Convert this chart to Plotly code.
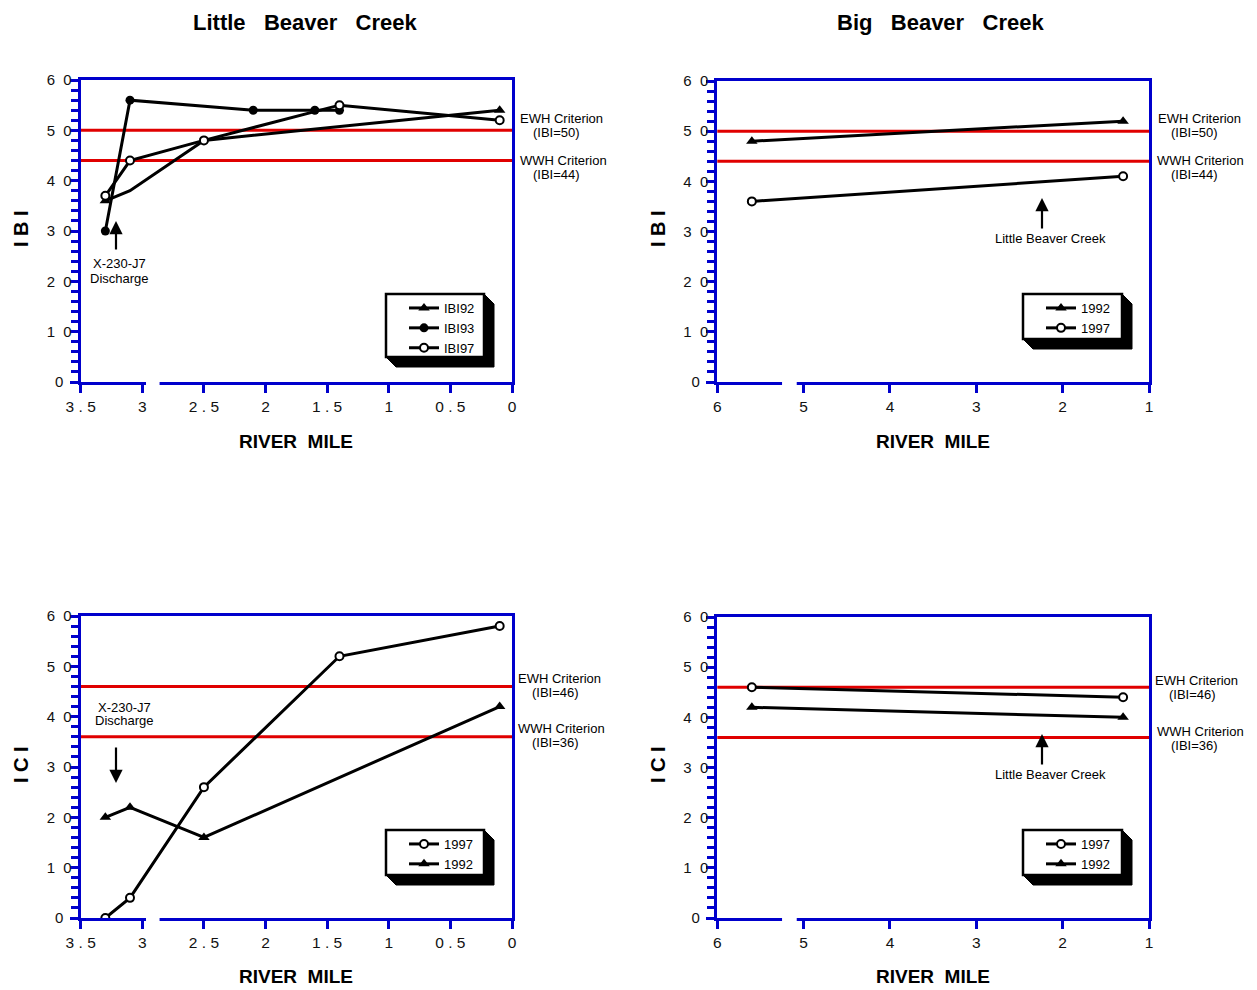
import plotly.graph_objects as go

# ---------------- data ----------------
# Little Beaver Creek - IBI
lbc_ibi92_mile = [3.3, 3.1, 2.5, 0.1]
lbc_ibi92_val = [36, 38, 48, 54]
lbc_ibi92_marked = [True, False, False, True]
lbc_ibi93_mile = [3.3, 3.1, 2.1, 1.6, 1.4]
lbc_ibi93_val = [30, 56, 54, 54, 54]
lbc_ibi97_mile = [3.3, 3.1, 2.5, 1.4, 0.1]
lbc_ibi97_val = [37, 44, 48, 55, 52]

# Little Beaver Creek - ICI
lbc_ici97_mile = [3.3, 3.1, 2.5, 1.4, 0.1]
lbc_ici97_val = [0, 4, 26, 52, 58]
lbc_ici92_mile = [3.3, 3.1, 2.5, 0.1]
lbc_ici92_val = [20, 22, 16, 42]

# Big Beaver Creek - IBI
bbc_ibi92_mile = [5.6, 1.3]
bbc_ibi92_val = [48, 52]
bbc_ibi97_mile = [5.6, 1.3]
bbc_ibi97_val = [36, 41]

# Big Beaver Creek - ICI
bbc_ici97_mile = [5.6, 1.3]
bbc_ici97_val = [46, 44]
bbc_ici92_mile = [5.6, 1.3]
bbc_ici92_val = [42, 40]

# criteria
ibi_ewh, ibi_wwh = 50, 44
ici_ewh, ici_wwh = 46, 36

# ticks
lbc_xticks = [3.5, 3, 2.5, 2, 1.5, 1, 0.5, 0]
lbc_xticktext = ["3 . 5", "3", "2 . 5", "2", "1 . 5", "1", "0 . 5", "0"]
bbc_xticks = [6, 5, 4, 3, 2, 1]
bbc_xticktext = ["6", "5", "4", "3", "2", "1"]
yticks = [0, 10, 20, 30, 40, 50, 60]
yticktext = ["0\u00a0\u00a0", "1\u00a0\u00a00", "2\u00a0\u00a00", "3\u00a0\u00a00",
             "4\u00a0\u00a00", "5\u00a0\u00a00", "6\u00a0\u00a00"]

# ---------------- layout helpers ----------------
PAGE_W, PAGE_H = 1257, 990
OFF = 8  # default body margin of the page
W, H = PAGE_W - OFF, PAGE_H - OFF
FONT = "Liberation Sans, Arial, Helvetica, sans-serif"
BLUE = "#0000CC"
RED = "#E00000"


def px(x):
    return (x - OFF) / W


def py(y):
    return 1 - (y - OFF) / H


fig = go.Figure()

tri = dict(symbol="triangle-up", size=10, color="black")
dot = dict(symbol="circle", size=9, color="black")
ring = dict(symbol="circle", size=8, color="white", line=dict(color="black", width=2))
LINE = dict(color="black", width=3)

# Panel 1: Little Beaver Creek IBI
fig.add_trace(go.Scatter(x=lbc_ibi92_mile, y=lbc_ibi92_val, name="IBI92", mode="lines+markers",
                         line=LINE, marker=tri,
                         selectedpoints=[i for i, m in enumerate(lbc_ibi92_marked) if m],
                         unselected=dict(marker=dict(opacity=0)),
                         xaxis="x", yaxis="y", legend="legend"))
fig.add_trace(go.Scatter(x=lbc_ibi93_mile, y=lbc_ibi93_val, name="IBI93", mode="lines+markers",
                         line=LINE, marker=dot, xaxis="x", yaxis="y", legend="legend"))
fig.add_trace(go.Scatter(x=lbc_ibi97_mile, y=lbc_ibi97_val, name="IBI97", mode="lines+markers",
                         line=LINE, marker=ring, xaxis="x", yaxis="y", legend="legend"))

# Panel 2: Big Beaver Creek IBI
fig.add_trace(go.Scatter(x=bbc_ibi92_mile, y=bbc_ibi92_val, name="1992", mode="lines+markers",
                         line=LINE, marker=tri, xaxis="x2", yaxis="y2", legend="legend2"))
fig.add_trace(go.Scatter(x=bbc_ibi97_mile, y=bbc_ibi97_val, name="1997", mode="lines+markers",
                         line=LINE, marker=ring, xaxis="x2", yaxis="y2", legend="legend2"))

# Panel 3: Little Beaver Creek ICI
fig.add_trace(go.Scatter(x=lbc_ici97_mile, y=lbc_ici97_val, name="1997", mode="lines+markers",
                         line=LINE, marker=ring, xaxis="x3", yaxis="y3", legend="legend3"))
fig.add_trace(go.Scatter(x=lbc_ici92_mile, y=lbc_ici92_val, name="1992", mode="lines+markers",
                         line=LINE, marker=tri, xaxis="x3", yaxis="y3", legend="legend3"))

# Panel 4: Big Beaver Creek ICI
fig.add_trace(go.Scatter(x=bbc_ici97_mile, y=bbc_ici97_val, name="1997", mode="lines+markers",
                         line=LINE, marker=ring, xaxis="x4", yaxis="y4", legend="legend4"))
fig.add_trace(go.Scatter(x=bbc_ici92_mile, y=bbc_ici92_val, name="1992", mode="lines+markers",
                         line=LINE, marker=tri, xaxis="x4", yaxis="y4", legend="legend4"))

# axes (pixel boxes of each plot area in the page)
panels = {
    "1": ((80.7, 512), (80, 382), [3.5, 0], lbc_xticks, lbc_xticktext),
    "2": ((717.3, 1149), (81, 382), [6, 1], bbc_xticks, bbc_xticktext),
    "3": ((80.7, 512), (616, 918), [3.5, 0], lbc_xticks, lbc_xticktext),
    "4": ((717.3, 1149), (617, 918), [6, 1], bbc_xticks, bbc_xticktext),
}
layout_axes = {}
for k, (xd, yd, xr, xt, xtt) in panels.items():
    sfx = "" if k == "1" else k
    layout_axes["xaxis" + sfx] = dict(
        domain=[px(xd[0]), px(xd[1])], range=xr, anchor="y" + sfx, automargin=False,
        tickvals=xt, ticktext=xtt, ticks="outside", ticklen=8, tickwidth=3, tickcolor=BLUE,
        showline=True, linecolor=BLUE, linewidth=3, mirror=True,
        showgrid=False, zeroline=False, ticklabelstandoff=0,
        tickfont=dict(family=FONT, size=15.5, color="#111"))
    layout_axes["yaxis" + sfx] = dict(
        domain=[py(yd[1]), py(yd[0])], range=[0, 60], anchor="x" + sfx, automargin=False,
        tickvals=yticks, ticktext=yticktext, ticks="outside", ticklen=8, tickwidth=3, tickcolor=BLUE,
        minor=dict(dtick=2, ticks="outside", ticklen=7, tickwidth=3, tickcolor=BLUE),
        showline=True, linecolor=BLUE, linewidth=3, mirror=True,
        showgrid=False, zeroline=False, ticklabelstandoff=-5,
        tickfont=dict(family=FONT, size=15, color="#111"))

shapes = []
# criterion lines
for sfx, ewh, wwh in [("", ibi_ewh, ibi_wwh), ("2", ibi_ewh, ibi_wwh), ("3", ici_ewh, ici_wwh), ("4", ici_ewh, ici_wwh)]:
    for v in (ewh, wwh):
        shapes.append(dict(type="line", xref=("x" + sfx + " domain"), yref="y" + sfx, x0=0, x1=1, y0=v, y1=v,
                           line=dict(color=RED, width=3), layer="below"))

# axis breaks (white gaps in the bottom axis line)
for sfx, g0, g1 in [("", 2.97, 2.86), ("2", 5.25, 5.08), ("3", 2.97, 2.86), ("4", 5.25, 5.08)]:
    shapes.append(dict(type="rect", xref="x" + sfx, yref="y" + sfx + " domain", x0=g0, x1=g1,
                       y0=-0.012, y1=0.012, fillcolor="white", line=dict(width=0), layer="above"))

# legend boxes with 3-D shadow (left, top, right, bottom in page px)
legend_boxes = [
    (386, 294, 484, 357),
    (1023, 294, 1122, 339),
    (386, 830, 484, 875),
    (1023, 830, 1122, 875),
]
for (l, t, r, b) in legend_boxes:
    d = 10
    path = (f"M {px(r)},{py(t)} L {px(r + d)},{py(t + d)} L {px(r + d)},{py(b + d)} "
            f"L {px(l + d)},{py(b + d)} L {px(l)},{py(b)} L {px(r)},{py(b)} Z")
    shapes.append(dict(type="path", xref="paper", yref="paper", path=path,
                       fillcolor="black", line=dict(color="black", width=1), layer="above"))
    shapes.append(dict(type="rect", xref="paper", yref="paper", x0=px(l), x1=px(r), y0=py(b), y1=py(t),
                       fillcolor="white", line=dict(color="black", width=2.5), layer="above"))

legends = {}
for i, (l, t, r, b) in enumerate(legend_boxes):
    key = "legend" if i == 0 else f"legend{i + 1}"
    legends[key] = dict(x=px(l + 18), y=py(t - 1), xanchor="left", yanchor="top", xref="paper", yref="paper",
                        bgcolor="rgba(0,0,0,0)", borderwidth=0, tracegroupgap=0,
                        font=dict(family=FONT, size=13, color="black"))

ann = []


def text(x, y, s, size=13, bold=False, angle=0):
    ann.append(dict(x=px(x), y=py(y), xref="paper", yref="paper", text=(f"<b>{s}</b>" if bold else s),
                    showarrow=False, xanchor="center", yanchor="middle", textangle=angle,
                    font=dict(family=FONT, size=size, color="black")))


def arrow(x, yhead, ytail):
    ann.append(dict(x=px(x), y=py(yhead), xref="paper", yref="paper", ax=0, ay=ytail - yhead,
                    axref="pixel", ayref="pixel", text="", showarrow=True, arrowhead=2, arrowsize=1.2,
                    arrowwidth=2.2, arrowcolor="black"))


NB = "\u00a0"
# titles
text(305, 23, f"Little{NB}{NB}{NB}Beaver{NB}{NB}{NB}Creek", size=22, bold=True)
text(940, 23, f"Big{NB}{NB}{NB}Beaver{NB}{NB}{NB}Creek", size=22, bold=True)
# axis titles
text(21, 229, f"I{NB}B{NB}I", size=20, bold=True, angle=-90)
text(658, 229, f"I{NB}B{NB}I", size=20, bold=True, angle=-90)
text(21, 765, f"I{NB}C{NB}I", size=20, bold=True, angle=-90)
text(658, 765, f"I{NB}C{NB}I", size=20, bold=True, angle=-90)
for xc in (296, 933):
    text(xc, 441, f"RIVER{NB}{NB}MILE", size=19, bold=True)
    text(xc, 976, f"RIVER{NB}{NB}MILE", size=19, bold=True)

# criterion labels
text(561, 118, "EWH Criterion")
text(556, 132, "(IBI=50)")
text(563, 161, "WWH Criterion")
text(556, 175, "(IBI=44)")
text(1199, 118, "EWH Criterion")
text(1194, 132, "(IBI=50)")
text(1200, 161, "WWH Criterion")
text(1194, 175, "(IBI=44)")
text(559, 678, "EWH Criterion")
text(555, 692, "(IBI=46)")
text(561, 728, "WWH Criterion")
text(555, 742, "(IBI=36)")
text(1196, 680, "EWH Criterion")
text(1192, 694, "(IBI=46)")
text(1200, 731, "WWH Criterion")
text(1194, 745, "(IBI=36)")

# discharge notes
text(119, 264, "X-230-J7")
text(119, 278, "Discharge")
arrow(116, 221, 251)
text(124, 707, "X-230-J7")
text(124, 720, "Discharge")
arrow(116, 783, 746)

text(1050, 238, "Little Beaver Creek")
arrow(1042, 198, 230)
text(1050, 774, "Little Beaver Creek")
arrow(1042, 734, 766)

fig.update_layout(
    width=W, height=H, autosize=False,
    margin=dict(l=0, r=0, t=0, b=0),
    paper_bgcolor="white", plot_bgcolor="white",
    showlegend=True,
    shapes=shapes, annotations=ann,
    font=dict(family=FONT, color="black"),
    **layout_axes, **legends,
)

fig.write_html("out.html")
